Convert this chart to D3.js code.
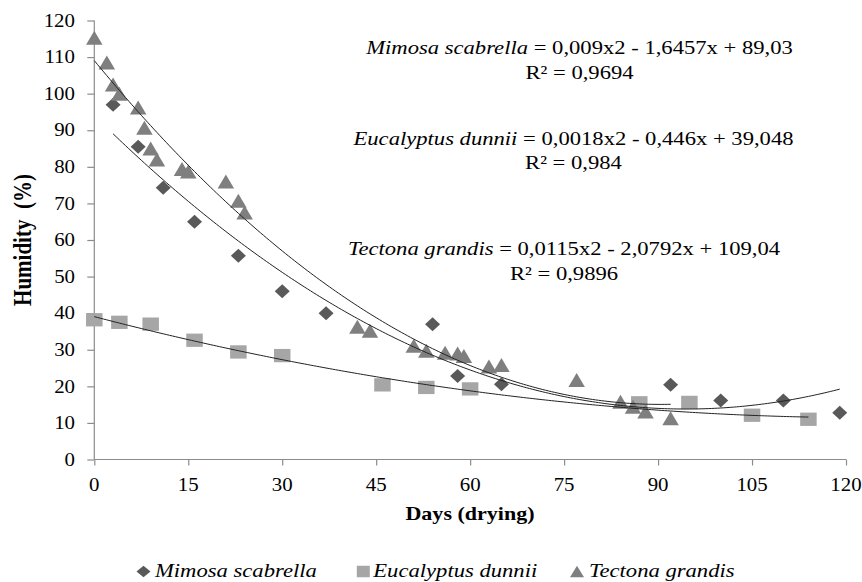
<!DOCTYPE html>
<html>
<head>
<meta charset="utf-8">
<script src="https://cdn.jsdelivr.net/npm/d3@7/dist/d3.min.js"></script>
<style>
  html, body { margin: 0; padding: 0; background: #fff; }
  svg { display: block; }
  text { font-family: "Liberation Serif", "Times New Roman", serif; fill: #000; }
</style>
</head>
<body>
<svg id="chart" width="862" height="582"></svg>
<script>
// ---- data ----
const seriesNames = ["Mimosa scabrella", "Eucalyptus dunnii", "Tectona grandis"];

const mimosaDays = [3, 7, 11, 16, 23, 30, 37, 54, 58, 65, 92, 100, 110, 119];
const mimosaHum  = [97, 85.5, 74.3, 65, 55.7, 46, 40, 37, 22.8, 20.6, 20.4, 16.1, 16.1, 12.8];

const eucalyptusDays = [0, 4, 9, 16, 23, 30, 46, 53, 60, 87, 95, 105, 114];
const eucalyptusHum  = [38.2, 37.5, 37, 32.6, 29.4, 28.4, 20.4, 19.7, 19.3, 15.5, 15.6, 12.1, 11];

const tectonaDays = [0, 2, 3, 4, 7, 8, 9, 10, 14, 15, 21, 23, 24, 42, 44, 51, 53, 56, 58, 59, 63, 65, 77, 84, 86, 88, 92];
const tectonaHum  = [115.3, 108.5, 102.5, 100, 96.2, 90.7, 85, 82, 79.4, 78.7, 76, 70.7, 67.5, 36.3, 35.2, 31.1, 29.7, 29.2, 29, 28.3, 25.4, 25.8, 21.7, 15.8, 14.4, 13.1, 11.3];

// polynomial trendlines (coefficients as printed), drawn range and day offset
const trendA = [0.009, 0.0018, 0.0115];
const trendB = [-1.6457, -0.446, -2.0792];
const trendC = [89.03, 39.048, 109.04];
const trendStart = [3, 0, 0];
const trendEnd = [119, 114, 92];
const trendShift = [3, 0, 0];

const equationTexts = ["= 0,009x2 - 1,6457x + 89,03", "= 0,0018x2 - 0,446x + 39,048", "= 0,0115x2 - 2,0792x + 109,04"];
const r2Texts = ["R² = 0,9694", "R² = 0,984", "R² = 0,9896"];

const xTicks = [0, 15, 30, 45, 60, 75, 90, 105, 120];
const yTicks = [0, 10, 20, 30, 40, 50, 60, 70, 80, 90, 100, 110, 120];

const xTitle = "Days (drying)";
const yTitle = "Humidity  (%)";

// ---- layout / style ----
const SX = 1.16; // horizontal text stretch
const colors = ["#595959", "#a6a6a6", "#7f7f7f"];
const axisColor = "#8c8c8c";

const svg = d3.select("#chart");
const x = d3.scaleLinear().domain([0, 120]).range([94.3, 846]);
const y = d3.scaleLinear().domain([0, 120]).range([459.5, 20.5]);

function stext(g, tx, ty, str, opts) {
  const t = g.append("text")
    .attr("transform", `translate(${tx},${ty}) scale(${SX},1)`)
    .attr("font-size", opts.size)
    .attr("text-anchor", opts.anchor || "start")
    .style("white-space", "pre");
  if (opts.weight) t.attr("font-weight", opts.weight);
  if (opts.style) t.attr("font-style", opts.style);
  t.text(str);
  return t;
}

// axes
const gx = svg.append("g").attr("transform", `translate(0,${y(0)})`)
  .call(d3.axisBottom(x).tickValues(xTicks).tickSize(6).tickFormat(""));
const gy = svg.append("g").attr("transform", `translate(${x(0)},0)`)
  .call(d3.axisLeft(y).tickValues(yTicks).tickSize(7).tickFormat(""));
[gx, gy].forEach(g => {
  g.select(".domain").attr("stroke", axisColor).attr("stroke-width", 1.2);
  g.selectAll(".tick line").attr("stroke", axisColor).attr("stroke-width", 1.2);
});
gx.select(".domain").attr("d", `M${x(0)},0H${x(120)}`);
gy.select(".domain").attr("d", `M0,${y(120)}V${y(0)}`);

// tick labels
const labels = svg.append("g");
xTicks.forEach(v => stext(labels, x(v), 491, String(v), {size: 18, anchor: "middle"}));
yTicks.forEach(v => stext(labels, 75, y(v) + 6.2, String(v), {size: 18, anchor: "end"}));

// axis titles
stext(labels, 470, 519.5, xTitle, {size: 19, anchor: "middle", weight: "bold"});
labels.append("text")
  .attr("transform", `translate(31,240) rotate(-90) scale(1,${SX})`)
  .attr("font-size", 21).attr("font-weight", "bold").attr("text-anchor", "middle")
  .style("white-space", "pre").text(yTitle);

// marker shapes
function diamond(w, h) { return `M0,${-h/2}L${w/2},0L0,${h/2}L${-w/2},0Z`; }
function square(w, h) { return `M${-w/2},${-h/2}H${w/2}V${h/2}H${-w/2}Z`; }
function triangle(w, h) { return `M0,${-h/2}L${w/2},${h/2}H${-w/2}Z`; }
const markerPaths = [diamond(15, 14), square(16.5, 13.3), triangle(16.5, 14)];
const legendPaths = [diamond(14, 11.5), square(13, 11.5), triangle(14, 11.5)];

const seriesData = [
  d3.zip(mimosaDays, mimosaHum),
  d3.zip(eucalyptusDays, eucalyptusHum),
  d3.zip(tectonaDays, tectonaHum)
];

const marks = svg.append("g");
seriesData.forEach((pts, i) => {
  marks.append("g").selectAll("path").data(pts).join("path")
    .attr("d", markerPaths[i])
    .attr("transform", d => `translate(${x(d[0])},${y(d[1])})`)
    .attr("fill", colors[i]);
});

// trendlines
const line = d3.line().x(d => x(d[0])).y(d => y(d[1]));
const trends = svg.append("g");
for (let i = 0; i < 3; i++) {
  const pts = d3.range(trendStart[i], trendEnd[i] + 0.001, 0.5).map(d => {
    const u = d - trendShift[i];
    return [d, trendA[i] * u * u + trendB[i] * u + trendC[i]];
  });
  trends.append("path").attr("d", line(pts))
    .attr("fill", "none").attr("stroke", "#222").attr("stroke-width", 1);
}

// equation labels
const eqCenters = [579.5, 573.5, 564];
const eqBase = [54, 145, 255];
const r2Base = [79.3, 169.3, 279.8];
const eqG = svg.append("g");
for (let i = 0; i < 3; i++) {
  const t = eqG.append("text")
    .attr("transform", `translate(${eqCenters[i]},${eqBase[i]}) scale(${SX},1)`)
    .attr("font-size", 19.5).attr("text-anchor", "middle").style("white-space", "pre");
  t.append("tspan").attr("font-style", "italic").text(seriesNames[i]);
  t.append("tspan").text(" " + equationTexts[i]);
  stext(eqG, eqCenters[i], r2Base[i], r2Texts[i], {size: 19.5, anchor: "middle"});
}

// legend
const legendMarkX = [143.5, 363.3, 577];
const legendTextX = [155, 373.3, 589];
const legG = svg.append("g");
for (let i = 0; i < 3; i++) {
  legG.append("path").attr("d", legendPaths[i])
    .attr("transform", `translate(${legendMarkX[i]},571.5)`).attr("fill", colors[i]);
  stext(legG, legendTextX[i], 577.3, seriesNames[i], {size: 19.5, style: "italic"});
}
</script>
</body>
</html>
